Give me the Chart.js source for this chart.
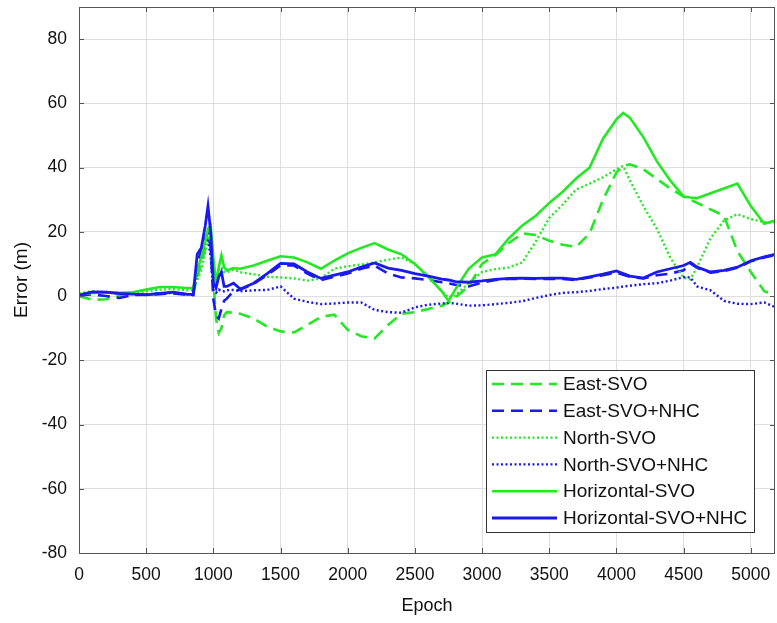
<!DOCTYPE html>
<html>
<head>
<meta charset="utf-8">
<script src="https://cdn.jsdelivr.net/npm/chart.js@4.4.1/dist/chart.umd.min.js"></script>
<style>
  html, body { margin: 0; padding: 0; background: #fff; }
  #wrap { width: 777px; height: 623px; }
</style>
</head>
<body>
<div id="wrap"><canvas id="chart" width="777" height="623"></canvas></div>
<script>
const epochs = [0, 100, 200, 300, 400, 500, 600, 700, 800, 850, 880, 910, 940, 960, 980,
  1000, 1020, 1040, 1060, 1080, 1100, 1150, 1200, 1300, 1400, 1500, 1600, 1700, 1800,
  1900, 2000, 2100, 2200, 2300, 2400, 2500, 2600, 2700, 2750, 2800, 2900, 3000, 3100,
  3200, 3300, 3400, 3500, 3600, 3700, 3800, 3900, 4000, 4050, 4100, 4200, 4300, 4400,
  4500, 4550, 4600, 4700, 4800, 4900, 5000, 5100, 5180];

const eastSvo = [0, -1.2, -1, 0, 0.5, 0.6, 0.8, 0.8, 0.5, 0.5, 6, 10, 15, 18, 16,
  5, -7, -11.5, -10, -6, -5, -5.2, -5.5, -7, -9.5, -11, -11.3, -9, -6.5,
  -5.8, -10.5, -12.5, -13.2, -9, -5.5, -5, -4, -3, -2, -0.5, 3, 10, 12.8,
  16.5, 19.5, 19, 17.2, 16, 15.3, 19.5, 30, 38.5, 40.5, 41, 39.5, 36.5, 33.5,
  31, 30, 29, 27, 25, 14, 7.5, 1.5, 0.3];

const eastNhc = [0.2, 0.5, 0, -0.6, 0.3, 0.4, 0.6, 0.8, 0.5, 0.3, 10, 14, 18, 20, 15,
  -1, -6, -7, -4, -1.5, -0.8, 1.5, 2, 3.8, 6.5, 9.5, 9.5, 7, 5,
  6, 7, 8.5, 9.5, 7, 5.8, 5.5, 5, 4.3, 4, 3.5, 3, 4.2, 5,
  5.3, 5.4, 5.3, 5.3, 5.3, 5, 5.8, 6.5, 7.3, 6.6, 6, 5.5, 6.5, 7,
  8, 10.2, 8.8, 7.3, 7.8, 8.8, 10.8, 12, 12.8];

const northSvo = [0.8, 1.5, 1, 0.8, 1, 1.5, 2, 2.2, 1.8, 1.8, 5, 8, 14, 17, 18.5,
  10, 5, 8, 9, 7.5, 7.4, 8.2, 7.4, 6.8, 6, 5.8, 5.5, 4.8, 5.5,
  8.5, 9.3, 9.8, 10.5, 11.3, 12, 10, 6, 1.5, -0.5, 0.2, 4, 7.5, 8.4,
  8.9, 10.5, 17, 24.3, 28.5, 33.2, 35, 37, 39.5, 40.5, 36, 28, 21, 12,
  5.7, 5.2, 9, 18, 23.5, 25.5, 24, 23, 23];

const northNhc = [0.5, 1.2, 1.3, 0.8, 0.7, 0.5, 0.8, 1, 0.5, 0.3, 8, 12, 17, 18, 12,
  2, 1, 2, 1.5, 1.5, 1.8, 1.9, 1.5, 1.8, 1.9, 3, -0.8, -1.8, -2.5,
  -2.3, -2, -2, -4.3, -5, -5.2, -3.5, -2.7, -2.3, -2.2, -2.3, -3, -2.9, -2.5,
  -2.1, -1.6, -0.6, 0.3, 1, 1.2, 1.6, 2.2, 2.6, 3, 3.2, 3.7, 4, 4.8,
  5.9, 5.8, 3, 1.8, -1.5, -2.4, -2.5, -2, -3.4];

const horizSvo = [0.5, 1, 1.2, 1, 1.2, 2, 2.8, 2.8, 2.5, 2.5, 8, 12, 17, 21, 22,
  12, 4, 9, 12.7, 9, 8, 8.7, 8.5, 9.5, 11, 12.4, 12, 10.5, 8.5,
  11, 13.3, 15, 16.5, 14.5, 13, 10, 6, 1.5, -1.5, 2, 8.5, 12, 13,
  18, 22, 25, 29, 32.5, 36.6, 40, 49, 55, 57, 55.5, 49.5, 42, 36,
  31, 30.7, 30.5, 32, 33.5, 35, 28, 22.5, 23.5];

const horizNhc = [0.3, 1.3, 1.2, 0.8, 0.6, 0.4, 0.8, 1.2, 0.6, 0.5, 13, 15, 22, 28, 20,
  4, 2.5, 6, 7.5, 3, 3, 4, 2.2, 4, 7, 10.2, 10, 7.5, 5.5,
  6.5, 7.5, 9, 10.3, 8.7, 8, 7, 6.2, 5.3, 5, 4.5, 4.3, 4.7, 5.2,
  5.5, 5.6, 5.5, 5.6, 5.6, 5.2, 6, 6.8, 7.8, 7, 6.2, 5.6, 7.5, 8.5,
  9.5, 10.5, 9, 7.5, 8, 9, 11, 12.2, 13];

const xTicks = [0, 500, 1000, 1500, 2000, 2500, 3000, 3500, 4000, 4500, 5000];
const yTicks = [-80, -60, -40, -20, 0, 20, 40, 60, 80];

const GREEN = "rgb(35,232,35)";
const BLUE = "rgb(25,25,240)";
const DASH = [12, 7];
const DOT = [2, 2.5];
const FONT = "'Liberation Sans', Arial, sans-serif";

const series = [
  { label: "East-SVO", data: eastSvo, color: GREEN, dash: DASH, width: 2.6 },
  { label: "East-SVO+NHC", data: eastNhc, color: BLUE, dash: DASH, width: 2.6 },
  { label: "North-SVO", data: northSvo, color: GREEN, dash: DOT, width: 2.4 },
  { label: "North-SVO+NHC", data: northNhc, color: BLUE, dash: DOT, width: 2.4 },
  { label: "Horizontal-SVO", data: horizSvo, color: GREEN, dash: [], width: 2.6 },
  { label: "Horizontal-SVO+NHC", data: horizNhc, color: BLUE, dash: [], width: 2.8 },
];

// matlab style box, inward ticks and the legend inside the axes
const boxPlugin = {
  id: "box",
  afterDatasetsDraw(chart) {
    const { ctx, chartArea: a, scales } = chart;
    ctx.save();
    ctx.strokeStyle = "#555";
    ctx.lineWidth = 1;
    ctx.beginPath();
    xTicks.forEach((v) => {
      const x = Math.round(scales.x.getPixelForValue(v)) + 0.5;
      ctx.moveTo(x, a.bottom); ctx.lineTo(x, a.bottom - 5);
      ctx.moveTo(x, a.top); ctx.lineTo(x, a.top + 5);
    });
    yTicks.forEach((v) => {
      const y = Math.round(scales.y.getPixelForValue(v)) + 0.5;
      ctx.moveTo(a.left, y); ctx.lineTo(a.left + 5, y);
      ctx.moveTo(a.right, y); ctx.lineTo(a.right - 5, y);
    });
    ctx.stroke();
    ctx.strokeRect(Math.round(a.left) + 0.5, Math.round(a.top) + 0.5,
      Math.round(a.right - a.left) - 1, Math.round(a.bottom - a.top));

    // legend
    const lx = 486, ly = 370, lw = 268, lh = 162, row = 26.8;
    ctx.fillStyle = "#fff";
    ctx.fillRect(lx, ly, lw, lh);
    ctx.strokeStyle = "#333";
    ctx.strokeRect(lx + 0.5, ly + 0.5, lw, lh);
    ctx.font = "19px " + FONT;
    ctx.textBaseline = "middle";
    ctx.textAlign = "left";
    chart.data.datasets.forEach((ds, i) => {
      const y = ly + 14 + i * row;
      ctx.strokeStyle = ds.borderColor;
      ctx.lineWidth = ds.borderWidth;
      ctx.setLineDash(ds.borderDash);
      ctx.beginPath();
      ctx.moveTo(lx + 6, y);
      ctx.lineTo(lx + 71, y);
      ctx.stroke();
      ctx.setLineDash([]);
      ctx.fillStyle = "#111";
      ctx.fillText(ds.label, lx + 77, y + 1);
    });
    ctx.restore();
  },
};

new Chart(document.getElementById("chart"), {
  type: "line",
  data: {
    labels: epochs,
    datasets: series.map((s, i) => ({
      label: s.label,
      data: s.data,
      borderColor: s.color,
      borderDash: s.dash,
      borderWidth: s.width,
      pointRadius: 0,
      tension: 0,
      fill: false,
      order: series.length - i,
    })),
  },
  options: {
    responsive: false,
    animation: false,
    layout: { padding: { top: 7, right: 2, left: 0, bottom: 0 } },
    plugins: { legend: { display: false }, tooltip: { enabled: false } },
    scales: {
      x: {
        type: "linear",
        min: 0,
        max: 5180,
        afterBuildTicks: (s) => { s.ticks = xTicks.map((v) => ({ value: v })); },
        afterFit: (s) => { s.height = 70; s.paddingLeft = 0; s.paddingRight = 0; },
        grid: { color: "#dedede", drawTicks: false },
        border: { display: false },
        ticks: {
          padding: 12,
          maxRotation: 0,
          color: "#111",
          callback: (v) => String(v),
          font: { family: FONT, size: 17.5 },
        },
        title: {
          display: true,
          text: "Epoch",
          color: "#111",
          padding: { top: 0, bottom: 6 },
          font: { family: FONT, size: 18 },
        },
      },
      y: {
        min: -80,
        max: 90,
        afterBuildTicks: (s) => { s.ticks = yTicks.map((v) => ({ value: v })); },
        afterFit: (s) => { s.width = 79; s.paddingTop = 0; s.paddingBottom = 0; },
        grid: { color: "#dedede", drawTicks: false },
        border: { display: false },
        ticks: {
          padding: 12,
          color: "#111",
          callback: (v) => String(v),
          font: { family: FONT, size: 17.5 },
        },
        title: {
          display: true,
          text: "Error (m)",
          color: "#111",
          padding: { top: 10, bottom: 0 },
          font: { family: FONT, size: 19 },
        },
      },
    },
  },
  plugins: [boxPlugin],
});
</script>
</body>
</html>
